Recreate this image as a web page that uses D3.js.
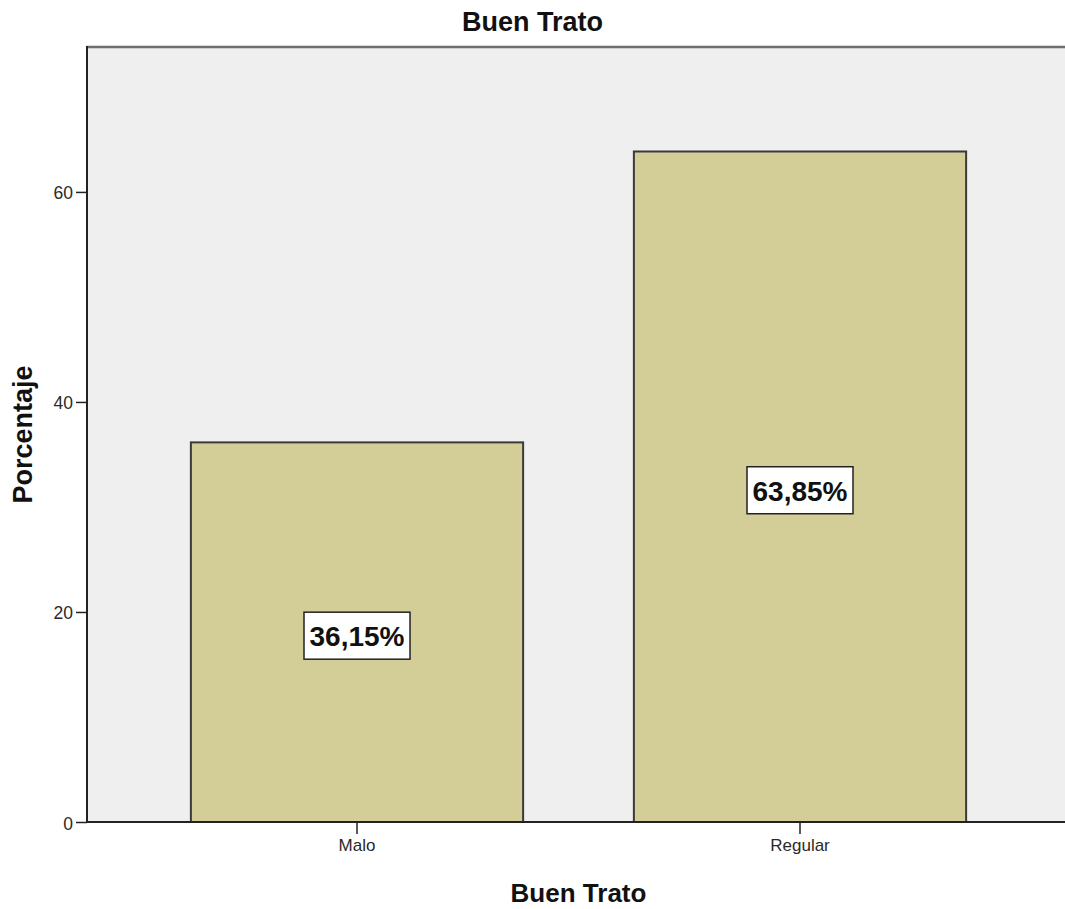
<!DOCTYPE html>
<html>
<head>
<meta charset="utf-8">
<script src="https://cdn.jsdelivr.net/npm/d3@7"></script>
<style>
  html, body { margin: 0; padding: 0; background: #ffffff; }
  svg { display: block; font-family: Arial, "Liberation Sans", sans-serif; }
</style>
</head>
<body>
<svg id="chart" width="1065" height="909"></svg>
<script>
// Distribución porcentual de "Buen Trato"
const categories = ["Malo", "Regular"];
const percentages = [36.15, 63.85];
const valueLabels = ["36,15%", "63,85%"];
const yTicks = [0, 20, 40, 60];

const svg = d3.select("#chart");
const plot = { left: 87, right: 1070, top: 47, bottom: 822 };

const x = d3.scaleBand()
  .domain(categories)
  .range([135.5, 1021.5])
  .paddingInner(0.25)
  .paddingOuter(0.125);

const y = d3.scaleLinear()
  .domain([0, 73.8])
  .range([plot.bottom, plot.top]);

// Plot background
svg.append("rect")
  .attr("x", plot.left).attr("y", plot.top)
  .attr("width", plot.right - plot.left).attr("height", plot.bottom - plot.top)
  .attr("fill", "#efefef");

// Top frame line
svg.append("line")
  .attr("x1", plot.left).attr("x2", plot.right)
  .attr("y1", plot.top).attr("y2", plot.top)
  .attr("stroke", "#6e6e6e").attr("stroke-width", 2.5);

// Bars
svg.append("g").selectAll("rect")
  .data(categories)
  .join("rect")
  .attr("x", d => x(d))
  .attr("y", (d, i) => y(percentages[i]))
  .attr("width", x.bandwidth())
  .attr("height", (d, i) => y(0) - y(percentages[i]))
  .attr("fill", "#d3cd97")
  .attr("stroke", "#3a3a3a")
  .attr("stroke-width", 2);

// Y axis
const yAxis = svg.append("g")
  .attr("transform", `translate(${plot.left},0)`)
  .call(d3.axisLeft(y).tickValues(yTicks).tickSize(11).tickPadding(3).tickFormat(d3.format("d")));
yAxis.select(".domain").remove();
yAxis.selectAll(".tick line").attr("stroke", "#222").attr("stroke-width", 1.5);
yAxis.selectAll(".tick text")
  .attr("font-size", 17.5).attr("fill", "#2a2a2a")
  .attr("font-family", "Arial, 'Liberation Sans', sans-serif")
  .attr("dy", "0.4em");
svg.append("line")
  .attr("x1", plot.left).attr("x2", plot.left)
  .attr("y1", plot.top - 1).attr("y2", plot.bottom)
  .attr("stroke", "#222").attr("stroke-width", 2);

// X axis
const xAxis = svg.append("g")
  .attr("transform", `translate(0,${plot.bottom})`)
  .call(d3.axisBottom(x).tickSize(12).tickPadding(5));
xAxis.select(".domain").remove();
xAxis.selectAll(".tick line").attr("stroke", "#222").attr("stroke-width", 1.5);
xAxis.selectAll(".tick text")
  .attr("font-size", 17).attr("fill", "#2a2a2a")
  .attr("font-family", "Arial, 'Liberation Sans', sans-serif");
svg.append("line")
  .attr("x1", plot.left - 1).attr("x2", plot.right)
  .attr("y1", plot.bottom).attr("y2", plot.bottom)
  .attr("stroke", "#222").attr("stroke-width", 2);

// Value labels in white boxes at the middle of each bar
const lab = svg.append("g").selectAll("g")
  .data(categories)
  .join("g")
  .attr("transform", (d, i) => `translate(${x(d) + x.bandwidth() / 2},${y(percentages[i] / 2) + 4})`);
lab.append("rect")
  .attr("x", -53).attr("y", -24)
  .attr("width", 106).attr("height", 47)
  .attr("fill", "#ffffff")
  .attr("stroke", "#222").attr("stroke-width", 1.5);
lab.append("text")
  .attr("text-anchor", "middle")
  .attr("dy", "0.36em")
  .attr("font-size", 28)
  .attr("font-weight", "bold")
  .attr("fill", "#111")
  .text((d, i) => valueLabels[i]);

// Titles
svg.append("text")
  .attr("x", 532.5).attr("y", 31)
  .attr("text-anchor", "middle")
  .attr("font-size", 27).attr("font-weight", "bold").attr("fill", "#111")
  .text("Buen Trato");

svg.append("text")
  .attr("x", (plot.left + plot.right) / 2).attr("y", 902)
  .attr("text-anchor", "middle")
  .attr("font-size", 26).attr("font-weight", "bold").attr("fill", "#111")
  .text("Buen Trato");

svg.append("text")
  .attr("transform", `translate(32,${(plot.top + plot.bottom) / 2}) rotate(-90)`)
  .attr("text-anchor", "middle")
  .attr("font-size", 27).attr("font-weight", "bold").attr("fill", "#111")
  .text("Porcentaje");
</script>
</body>
</html>
